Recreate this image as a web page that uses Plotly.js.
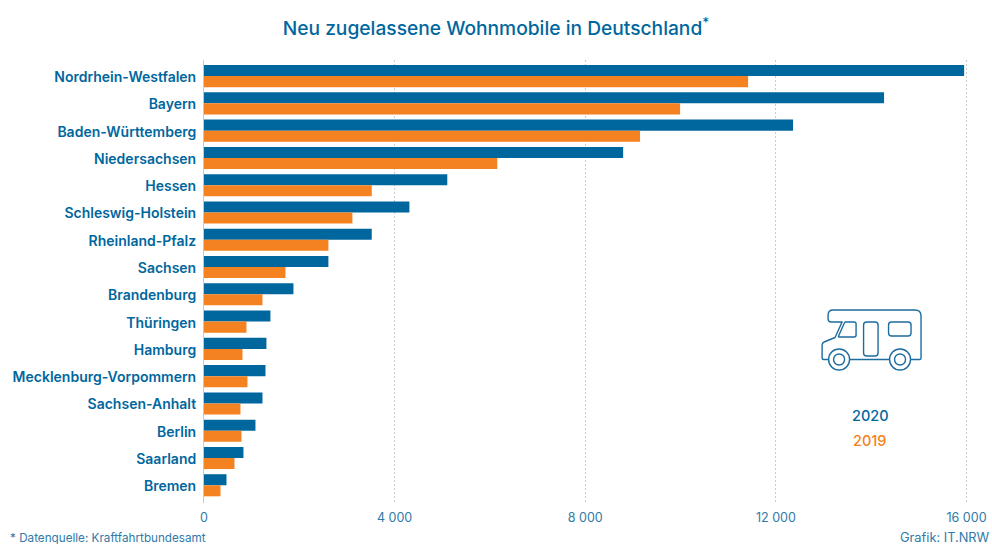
<!DOCTYPE html>
<html>
<head>
<meta charset="utf-8">
<script src="https://cdn.plot.ly/plotly-3.0.1.min.js"></script>
<style>html,body{margin:0;padding:0;background:#fff}#chart{width:992px;height:544px}</style>
</head>
<body>
<div id="chart"></div>
<script>
const categories = ["Nordrhein-Westfalen","Bayern","Baden-Württemberg","Niedersachsen","Hessen","Schleswig-Holstein","Rheinland-Pfalz","Sachsen","Brandenburg","Thüringen","Hamburg","Mecklenburg-Vorpommern","Sachsen-Anhalt","Berlin","Saarland","Bremen"];
const values2020 = [15950,14270,12360,8795,5105,4310,3520,2610,1877,1394,1310,1290,1227,1080,828,472];
const values2019 = [11417,9990,9150,6154,3520,3114,2610,1709,1227,891,807,912,765,786,640,346];
const tickVals = [0,4000,8000,12000,16000];
const tickLabels = ["0","4 000","8 000","12 000","16 000"];

const BLUE = "#00679e", ORANGE = "#f58220", TEXT = "#2f7aa8";
const FONT = "Inter, Roboto, sans-serif";
const W = 992, H = 544;

const icon = `<svg xmlns="http://www.w3.org/2000/svg" width="110" height="70" viewBox="0 0 110 70"><g transform="translate(-817,-305)" fill="none" stroke="#1c6c9f" stroke-width="1.4" stroke-linejoin="round"><path d="M828.5 359.500H823.500Q822 359.500 822 358V345Q822 343 824 342L835 337.500L842 322H831Q828 322 828 319V315Q828 310 833 310H915Q921 310 921 316V358Q921 359.500 919.500 359.500H911M889 359.500H850"/><path d="M845.500 322H854Q856 322 856 324V335Q856 337 854 337H839Q838 337 838.500 336L844 323.500Q844.500 322 845.500 322Z"/><rect x="863.500" y="322" width="14.500" height="34" rx="3"/><rect x="888.500" y="322" width="22.500" height="14" rx="3"/><circle cx="839" cy="359.500" r="10.500"/><circle cx="839" cy="359.500" r="5.500"/><circle cx="900" cy="359.500" r="10.500"/><circle cx="900" cy="359.500" r="5.500"/></g></svg>`;

const data = [
  {type:"bar",orientation:"h",name:"2020",y:categories,x:values2020,marker:{color:BLUE},hoverinfo:"y+x"},
  {type:"bar",orientation:"h",name:"2019",y:categories,x:values2019,marker:{color:ORANGE},hoverinfo:"y+x"}
];

const mL=203.5,mR=22,mT=60,mB=41;
function paperX(px){return (px-mL)/(W-mL-mR);}
function paperY(py){return 1-(py-mT)/(H-mT-mB);}
function ann(text,px,py,anchor,size,color,weight){
  return {text:text,xref:"paper",yref:"paper",x:paperX(px),y:paperY(py),xanchor:anchor,yanchor:"middle",showarrow:false,
    borderpad:0,borderwidth:0,
    font:{family:FONT,size:size,color:color,weight:weight||400}};
}

const layout = {
  width:W,height:H,
  paper_bgcolor:"#fff",plot_bgcolor:"#fff",
  margin:{l:mL,r:mR,t:mT,b:mB,pad:0},
  showlegend:false,
  barmode:"group",bargap:0.19,bargroupgap:0,
  font:{family:FONT,color:TEXT},
  title:{text:"Neu zugelassene Wohnmobile in Deutschland<sup>*</sup>",x:0.5,xanchor:"center",y:1-28/H,yanchor:"middle",
    font:{family:FONT,size:19.2,color:BLUE,weight:500}},
  xaxis:{range:[0,16073],tickmode:"array",tickvals:tickVals,ticktext:tickLabels,
    showgrid:true,gridcolor:"#cccccc",griddash:"2px,2px",gridwidth:1,zeroline:false,
    showline:false,ticks:"",ticklabelstandoff:5,tickfont:{family:FONT,size:12.5,color:TEXT}},
  yaxis:{type:"category",range:[15.65,-0.59],categoryorder:"array",categoryarray:categories,
    showgrid:false,zeroline:false,showline:true,linecolor:"#c8c8c8",linewidth:1,ticks:"",
    ticklabelstandoff:4,ticklabelshift:-1,tickfont:{family:FONT,size:14,color:BLUE,weight:600}},
  annotations:[
    ann("2020",870,415,"center",14.5,BLUE,500),
    ann("2019",869,440,"center",14.5,ORANGE,500),
    ann("* Datenquelle: Kraftfahrtbundesamt",9,538,"left",11.7,TEXT,400),
    ann("Grafik: IT.NRW",990,537,"right",12.8,TEXT,400)
  ],
  images:[{source:"data:image/svg+xml;charset=utf-8,"+encodeURIComponent(icon),xref:"paper",yref:"paper",
    x:paperX(817),y:paperY(305),sizex:110/(W-mL-mR),sizey:70/(H-mT-mB),xanchor:"left",yanchor:"top",sizing:"stretch",layer:"above"}]
};
Plotly.newPlot("chart",data,layout,{displayModeBar:false,responsive:false});
</script>
</body>
</html>
